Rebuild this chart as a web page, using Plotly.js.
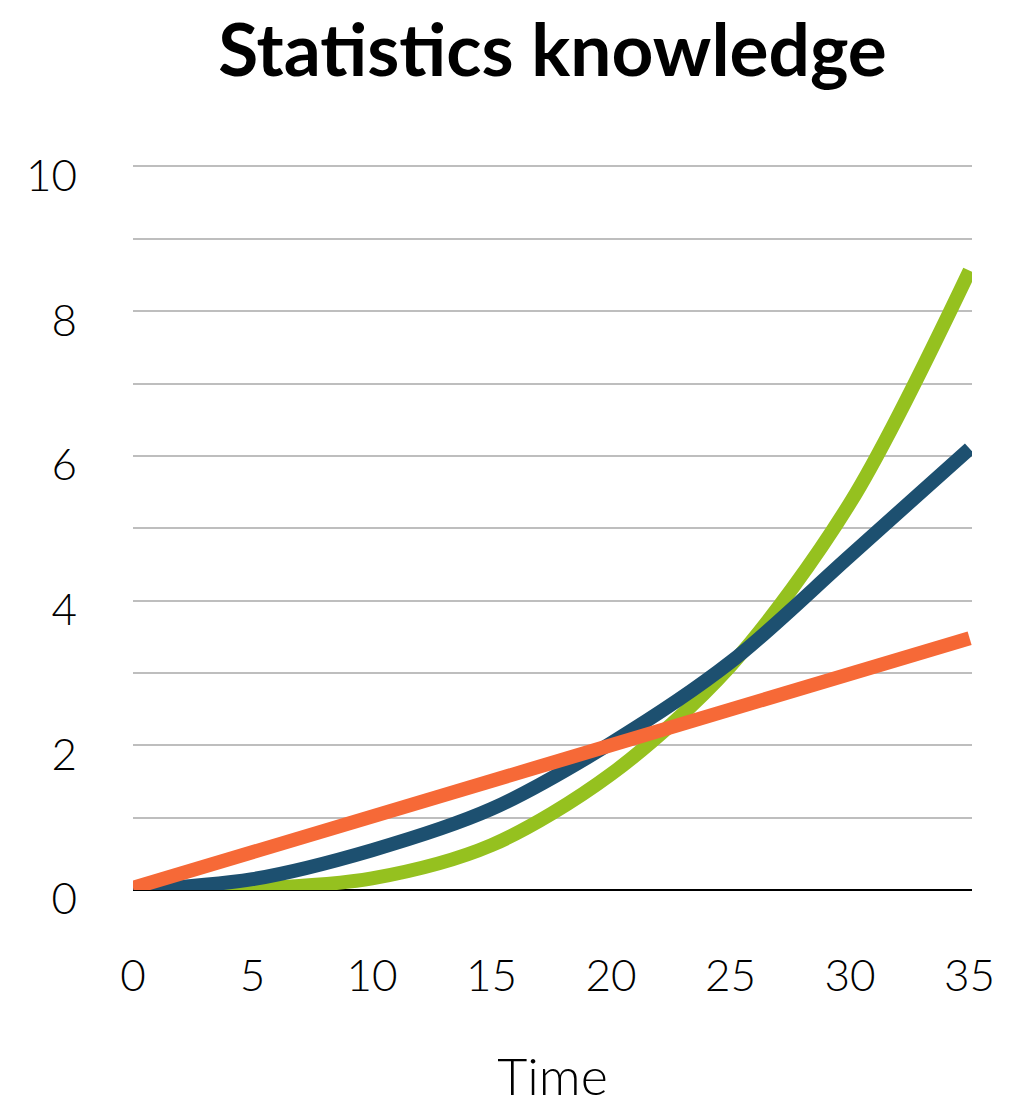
<!DOCTYPE html>
<html>
<head>
<meta charset="utf-8">
<script src="https://cdn.plot.ly/plotly-3.0.1.min.js"></script>
<style>html,body{margin:0;padding:0;background:#fff;}#chart{width:1018px;height:1106px;}</style>
</head>
<body>
<div id="chart"></div>
<script>
var time = [0, 5, 10, 15, 20, 25, 30, 35];
var greenSeries = [0, 0.02, 0.16, 0.62, 1.6, 3.1, 5.35, 8.56];
var blueSeries = [0, 0.15, 0.55, 1.12, 2.03, 3.15, 4.62, 6.1];
var orangeSeries = [0.03, 0.52, 1.02, 1.52, 2.01, 2.5, 3.0, 3.48];
var xTicks = [0, 5, 10, 15, 20, 25, 30, 35];
var yTicks = [0, 1, 2, 3, 4, 5, 6, 7, 8, 9, 10];
var yTickText = ['0', '', '2', '', '4', '', '6', '', '8', '', '10'];

var traces = [
  {x: time, y: greenSeries, mode: 'lines', name: 'Green', line: {color: '#95C11F', width: 14, shape: 'spline', smoothing: 0.9}},
  {x: time, y: blueSeries, mode: 'lines', name: 'Blue', line: {color: '#1D5070', width: 14, shape: 'spline', smoothing: 0.9}},
  {x: time, y: orangeSeries, mode: 'lines', name: 'Orange', line: {color: '#F66937', width: 14, shape: 'linear'}}
];

var layout = {
  width: 1018, height: 1106,
  margin: {l: 133, r: 46, t: 165, b: 216},
  paper_bgcolor: '#fff', plot_bgcolor: '#fff',
  showlegend: false,
  hovermode: false,
  title: {
    text: '<b>Statistics knowledge</b>',
    font: {family: 'Lato', size: 73, color: '#000'},
    x: 0.5, xanchor: 'center', xref: 'paper',
    y: 1 - 50/1106, yanchor: 'middle', yref: 'container'
  },
  xaxis: {
    range: [0, 35.1],
    tickvals: xTicks,
    ticktext: xTicks.map(String),
    showgrid: false,
    zeroline: false,
    showline: false,
    ticks: '',
    ticklabelstandoff: 56,
    tickfont: {family: 'Lato', size: 44, color: '#000', weight: 300},
    title: {text: 'Time', font: {family: 'Lato', size: 52, color: '#000', weight: 300}, standoff: 68}
  },
  yaxis: {
    range: [0, 10.02],
    tickvals: yTicks,
    ticktext: yTickText,
    showgrid: true,
    gridcolor: '#BEBEBE',
    gridwidth: 2,
    zeroline: true,
    zerolinecolor: '#000',
    zerolinewidth: 2.5,
    showline: false,
    ticks: '',
    ticklabelstandoff: 55,
    ticklabelshift: 9,
    tickfont: {family: 'Lato', size: 44, color: '#000', weight: 300}
  }
};

Plotly.newPlot('chart', traces, layout, {displayModeBar: false, staticPlot: true});
</script>
</body>
</html>
